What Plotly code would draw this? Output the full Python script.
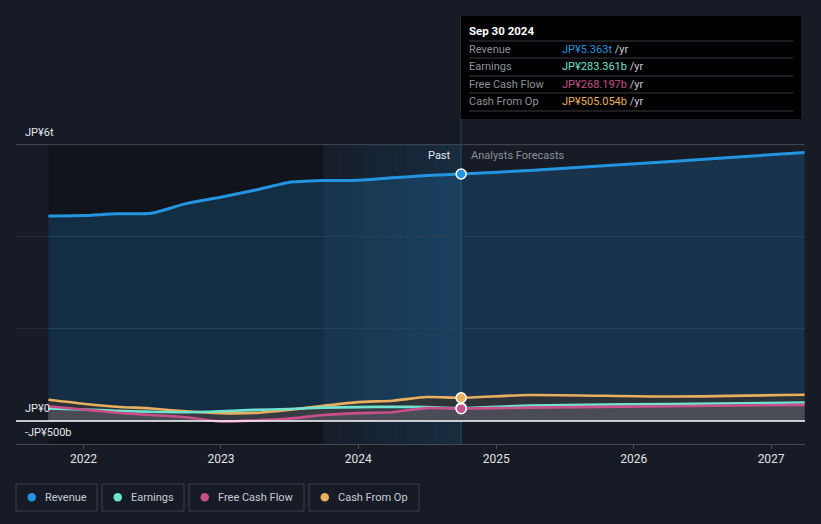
import plotly.graph_objects as go
import datetime as dt

# ---------------- data ----------------
past_dates = ['2021-09-30', '2021-12-31', '2022-03-31', '2022-06-30', '2022-09-30',
              '2022-12-31', '2023-03-31', '2023-06-30', '2023-09-30', '2023-12-31',
              '2024-03-31', '2024-06-30', '2024-09-30']
forecast_dates = ['2025-03-31', '2026-03-31', '2027-03-31']

# values in JP¥ trillions
revenue_past = [4.45, 4.46, 4.50, 4.51, 4.72, 4.86, 5.01, 5.18, 5.22, 5.23, 5.28, 5.33, 5.363]
revenue_fc = [5.44, 5.63, 5.83]
earnings_past = [0.27, 0.25, 0.22, 0.20, 0.19, 0.21, 0.24, 0.26, 0.29, 0.30, 0.31, 0.30, 0.283]
earnings_fc = [0.335, 0.37, 0.40]
fcf_past = [0.32, 0.25, 0.18, 0.13, 0.08, -0.01, 0.01, 0.05, 0.13, 0.17, 0.19, 0.28, 0.268]
fcf_fc = [0.29, 0.32, 0.35]
cfo_past = [0.46, 0.375, 0.31, 0.27, 0.21, 0.17, 0.175, 0.24, 0.33, 0.41, 0.44, 0.52, 0.505]
cfo_fc = [0.565, 0.53, 0.57]

series_names = ['Revenue', 'Earnings', 'Free Cash Flow', 'Cash From Op']
series_colors = ['#2394df', '#6fe3d0', '#c8508a', '#e8b05e']
tooltip_values = ['JP¥5.363t', 'JP¥283.361b', 'JP¥268.197b', 'JP¥505.054b']
tooltip_date = 'Sep 30 2024'
year_ticks = ['2022-01-01', '2023-01-01', '2024-01-01', '2025-01-01', '2026-01-01', '2027-01-01']
year_labels = ['2022', '2023', '2024', '2025', '2026', '2027']
y_label_vals = [6, 0, -0.5]
y_label_text = ['JP¥6t', 'JP¥0', '-JP¥500b']

dates = past_dates + forecast_dates
revenue = revenue_past + revenue_fc
earnings = earnings_past + earnings_fc
fcf = fcf_past + fcf_fc
cfo = cfo_past + cfo_fc
values = [revenue, earnings, fcf, cfo]

# ---------------- layout geometry ----------------
W, H = 821, 524
ML, MR, MT, MB = 16, 16, 15, 80
PW, PH = W - ML - MR, H - MT - MB
FONT = 'Roboto, "Open Sans", sans-serif'
BG = '#161b26'


def px(x):
    return (x - ML) / PW


def py(y):
    return (H - MB - y) / PH


fig = go.Figure()

fill_specs = [(cfo, 'rgba(48,51,54,0.92)'), (earnings, 'rgba(90,92,100,0.25)'),
              (fcf, 'rgba(105,105,120,0.35)')]

fig.add_trace(go.Scatter(x=dates, y=revenue, mode='lines', fill='tozeroy',
                         fillcolor='rgba(35,148,223,0.2)',
                         line=dict(color=series_colors[0], width=3, shape='spline', smoothing=0.6),
                         hoverinfo='skip', showlegend=False))
for vals, fc in fill_specs:
    fig.add_trace(go.Scatter(x=dates, y=vals, mode='lines', fill='tozeroy', fillcolor=fc,
                             line=dict(width=0, shape='spline', smoothing=0.6),
                             hoverinfo='skip', showlegend=False))
for idx in [3, 1, 2]:
    fig.add_trace(go.Scatter(x=dates, y=values[idx], mode='lines',
                             line=dict(color=series_colors[idx], width=2.6, shape='spline', smoothing=0.6),
                             hoverinfo='skip', showlegend=False))
for idx in [0, 3, 1, 2]:
    fig.add_trace(go.Scatter(x=[past_dates[-1]], y=[values[idx][len(past_dates) - 1]], mode='markers',
                             marker=dict(size=10, color=series_colors[idx],
                                         line=dict(color='white', width=1.5)),
                             hoverinfo='skip', showlegend=False))

shapes = []
shapes.append(dict(type='rect', xref='x', yref='y', x0=past_dates[0], x1=past_dates[-5],
                   y0=-0.5, y1=6, fillcolor='rgba(0,0,0,0.25)', line=dict(width=0), layer='below'))
d0 = dt.date.fromisoformat(past_dates[-5])
d1 = dt.date.fromisoformat(past_dates[-1])
n = 10
span = (d1 - d0).days
for i in range(n):
    a = d0 + dt.timedelta(days=span * i / n)
    b = d0 + dt.timedelta(days=span * (i + 1) / n)
    shapes.append(dict(type='rect', xref='x', yref='y', x0=a.isoformat(), x1=b.isoformat(),
                       y0=-0.5, y1=6, fillcolor='rgba(35,148,223,%.3f)' % (0.03 + 0.11 * i / (n - 1)),
                       line=dict(width=0), layer='below'))
shapes.append(dict(type='line', xref='paper', yref='y', x0=0, x1=1, y0=6, y1=6,
                   line=dict(color='#454a53', width=1), layer='below'))
shapes.append(dict(type='line', xref='paper', yref='y', x0=0, x1=1, y0=0, y1=0,
                   line=dict(color='#ffffff', width=1.5), layer='above'))
shapes.append(dict(type='line', xref='x', yref='paper', x0=past_dates[-1], x1=past_dates[-1],
                   y0=0, y1=py(16), line=dict(color='#2c4860', width=1), layer='below'))
shapes.append(dict(type='rect', xref='paper', yref='paper', x0=px(461), x1=px(801), y0=py(119), y1=py(16),
                   fillcolor='#000000', line=dict(width=0), layer='above'))
for ly in [41, 58, 76, 93, 111]:
    shapes.append(dict(type='line', xref='paper', yref='paper', x0=px(469), x1=px(793), y0=py(ly), y1=py(ly),
                       line=dict(color='#3a3d42', width=1), layer='above'))

annotations = []
annotations.append(dict(xref='paper', yref='paper', x=px(467.5), y=py(31.5), text='<b>' + tooltip_date + '</b>',
                        showarrow=False, xanchor='left', yanchor='middle',
                        font=dict(family=FONT, size=11.5, color='#ffffff')))
row_y = [49.5, 66.5, 84.5, 101.5]
for i, name in enumerate(series_names):
    annotations.append(dict(xref='paper', yref='paper', x=px(467.5), y=py(row_y[i]), text=name,
                            showarrow=False, xanchor='left', yanchor='middle',
                            font=dict(family=FONT, size=11, color='#8e939a')))
    annotations.append(dict(xref='paper', yref='paper', x=px(559.5), y=py(row_y[i]),
                            text='<span style="color:%s">%s</span> /yr' % (series_colors[i], tooltip_values[i]),
                            showarrow=False, xanchor='left', yanchor='middle',
                            font=dict(family=FONT, size=11, color='#c9ccd1')))

for v, t in zip(y_label_vals, y_label_text):
    annotations.append(dict(xref='paper', yref='y', x=px(22.5), y=v, yshift=12, text=t, showarrow=False,
                            xanchor='left', yanchor='middle', font=dict(family=FONT, size=11, color='#e6e8eb')))

annotations.append(dict(xref='x', yref='y', x=past_dates[-1], y=6, xshift=-8, yshift=-11, text='Past',
                        showarrow=False, xanchor='right', yanchor='middle',
                        font=dict(family=FONT, size=11, color='#e6e8eb')))
annotations.append(dict(xref='x', yref='y', x=past_dates[-1], y=6, xshift=8, yshift=-11,
                        text='Analysts Forecasts', showarrow=False, xanchor='left', yanchor='middle',
                        font=dict(family=FONT, size=11, color='#8c9199')))

box_x = [(16, 97), (102, 184), (189, 304), (309, 419)]
for i, name in enumerate(series_names):
    x0, x1 = box_x[i]
    shapes.append(dict(type='rect', xref='paper', yref='paper', x0=px(x0), x1=px(x1), y0=py(511), y1=py(484),
                       fillcolor='rgba(0,0,0,0)', line=dict(color='#3b414b', width=1), layer='above'))
    shapes.append(dict(type='circle', xref='paper', yref='paper', x0=px(x0 + 11.5), x1=px(x0 + 20),
                       y0=py(501.5), y1=py(493), fillcolor=series_colors[i], line=dict(width=0), layer='above'))
    annotations.append(dict(xref='paper', yref='paper', x=px(x0 + 26.5), y=py(497.5), text=name, showarrow=False,
                            xanchor='left', yanchor='middle', font=dict(family=FONT, size=11, color='#c8ccd2')))

fig.update_layout(
    width=W, height=H,
    margin=dict(l=ML, r=MR, t=MT, b=MB),
    paper_bgcolor=BG, plot_bgcolor=BG,
    showlegend=False,
    shapes=shapes, annotations=annotations,
    xaxis=dict(type='date', range=['2021-07-06', '2027-04-01'], tickvals=year_ticks, ticktext=year_labels,
               showgrid=False, zeroline=False, showline=True, linecolor='#454a53', linewidth=1,
               ticks='outside', ticklen=4, tickcolor='#454a53',
               tickfont=dict(family=FONT, size=12, color='#e0e2e5'), fixedrange=True),
    yaxis=dict(range=[-0.5, -0.5 + PH / 46.05], tickvals=[2, 4], showticklabels=False,
               showgrid=True, gridcolor='#262c36', zeroline=False, fixedrange=True),
)

fig.write_html('out.html', config={'displayModeBar': False},
               post_script="document.body.style.margin='0';document.body.style.padding='0';"
                           "document.body.style.background='%s';" % BG)
